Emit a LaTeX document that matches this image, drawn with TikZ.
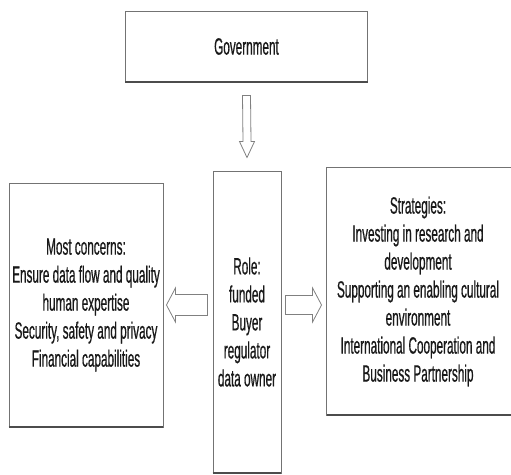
\documentclass[tikz,border=0pt]{standalone}
\usepackage{fontspec}
\newfontfamily\narrowsans[FakeStretch=0.5,FakeBold=0.6]{Liberation Sans}
\usetikzlibrary{calc}
\tikzset{
  boxstyle/.style={draw=black!55, line width=0.9pt, fill=white, inner sep=0pt,
    align=center, font=\narrowsans\fontsize{23.5}{28}\selectfont, text=black!90},
  shadowline/.style={draw=black!70, line width=1.6pt},
  blockarr/.style={draw=black!50, line width=0.8pt, fill=white, line join=miter},
}
\begin{document}
\begin{tikzpicture}[x=1pt,y=-1pt]
\useasboundingbox (0,0) rectangle (511,474);
% boxes
\node[boxstyle, minimum width=242, minimum height=71] (gov) at (246.5,46.5) {Government};
\node[boxstyle, minimum width=154, minimum height=244] (left) at (86,305)
  {Most concerns:\\Ensure data flow and quality\\human expertise\\Security, safety and privacy\\Financial capabilities};
\node[boxstyle, minimum width=68, minimum height=302] (role) at (247,322)
  {Role:\\funded\\Buyer\\regulator\\data owner};
\node[boxstyle, draw=none, minimum width=182, minimum height=247] (right) at (418,291.5)
  {Strategies:\\Investing in research and\\development\\Supporting an enabling cultural\\environment\\International Cooperation and\\Business Partnership};
\draw[draw=black!55, line width=0.9pt] ([xshift=6]right.north east) -- (right.north west) -- (right.south west) -- ([xshift=6]right.south east);
% shadows on bottom edges
\draw[shadowline] ([yshift=0.6]gov.south west) -- ([yshift=0.6]gov.south east);
\draw[shadowline] ([yshift=0.6]left.south west) -- ([yshift=0.6]left.south east);
\draw[shadowline] ([yshift=0.6]role.south west) -- ([yshift=0.6]role.south east);
\draw[shadowline] ([yshift=0.6]right.south west) -- ([xshift=6,yshift=0.6]right.south east);
% down arrow: Government -> Role
\coordinate (dt) at ($(gov.south)+(0,13)$);
\coordinate (dh) at ($(role.north)+(0,-13)$);
\draw[blockarr] ($(dt)+(-4,0)$) -- ($(dt)+(4,0)$) -- ($(dh)+(4,-16)$) -- ($(dh)+(7.5,-16)$)
  -- (dh) -- ($(dh)+(-7.5,-16)$) -- ($(dh)+(-4,-16)$) -- cycle;
% left arrow: Role -> Most concerns
\coordinate (lt) at ($(role.west|-left.east)+(-5,0)$);
\coordinate (lh) at ($(left.east)+(3,0)$);
\draw[blockarr] ($(lt)+(0,-10.5)$) -- ($(lt)+(0,10.5)$) -- ($(lh)+(9,10.5)$) -- ($(lh)+(9,17)$)
  -- (lh) -- ($(lh)+(9,-17)$) -- ($(lh)+(9,-10.5)$) -- cycle;
% right arrow: Role -> Strategies
\coordinate (rt) at ($(role.east|-left.east)+(4,0)$);
\coordinate (rh) at ($(right.west|-left.east)+(-5,0)$);
\draw[blockarr] ($(rt)+(0,-9.5)$) -- ($(rt)+(0,9.5)$) -- ($(rh)+(-9,9.5)$) -- ($(rh)+(-9,17)$)
  -- (rh) -- ($(rh)+(-9,-17)$) -- ($(rh)+(-9,-9.5)$) -- cycle;
\end{tikzpicture}
\end{document}
